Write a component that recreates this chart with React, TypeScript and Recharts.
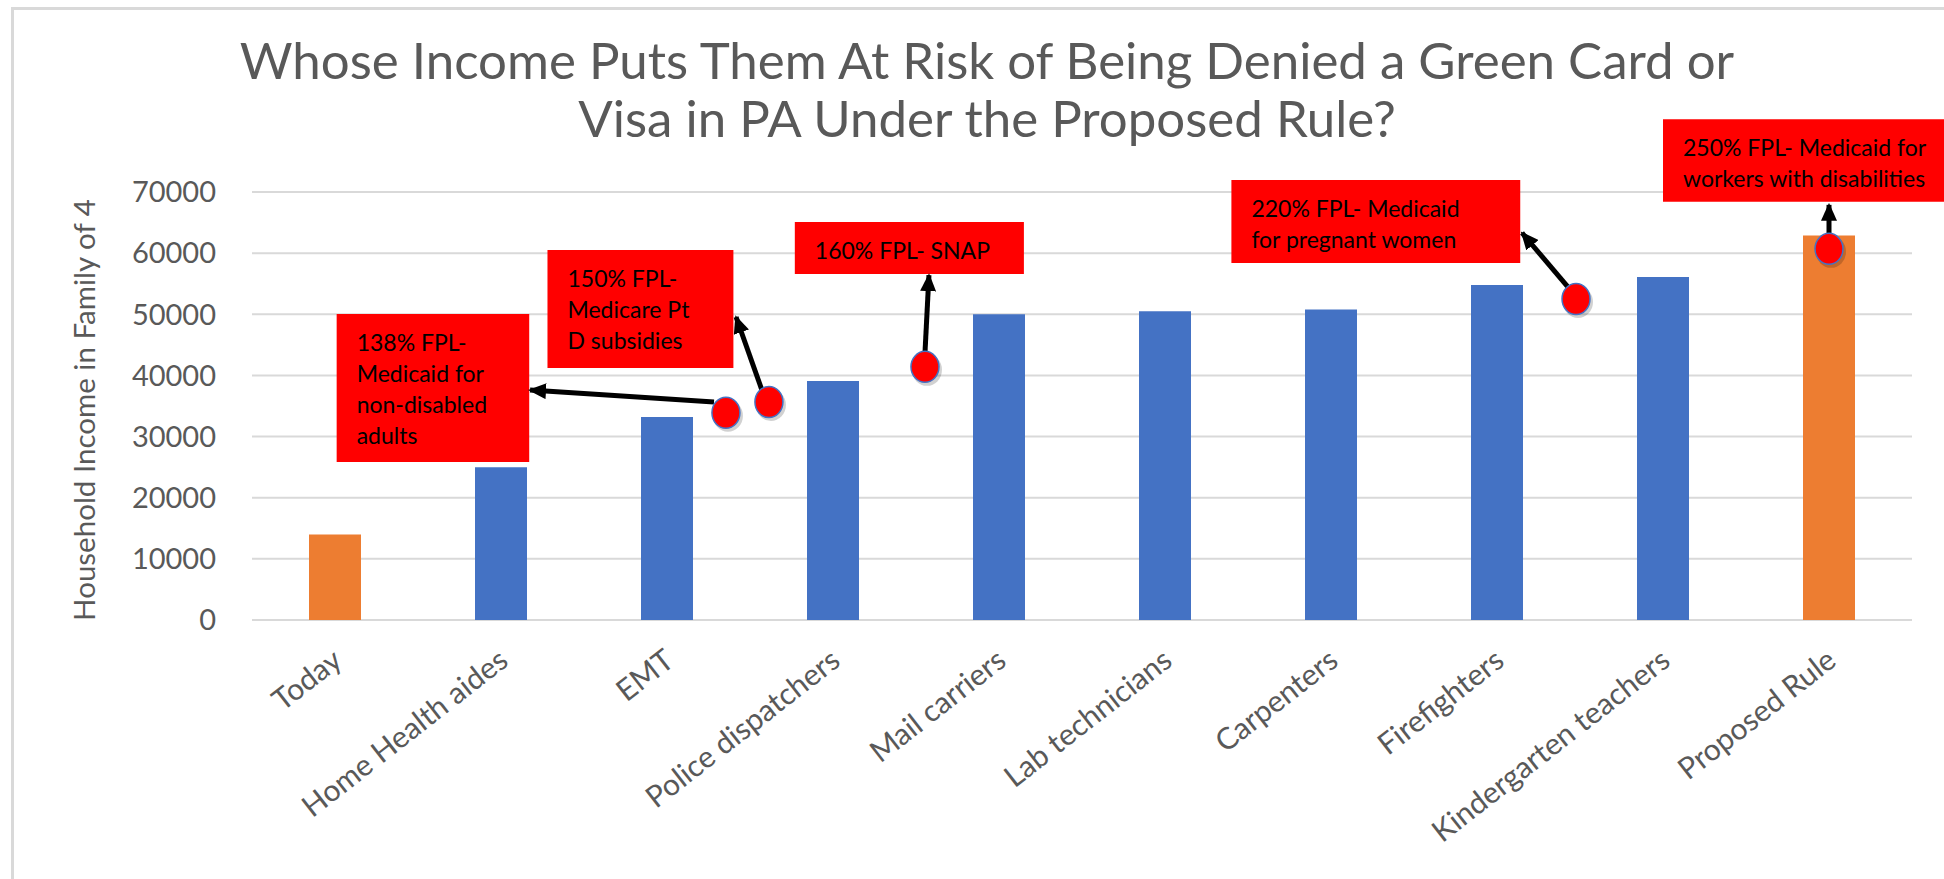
import React from 'react';
import {
  ComposedChart,
  Bar,
  Cell,
  Scatter,
  XAxis,
  YAxis,
  CartesianGrid,
  ReferenceArea,
  ReferenceLine,
} from 'recharts';

const categories = [
  'Today',
  'Home Health aides',
  'EMT',
  'Police dispatchers',
  'Mail carriers',
  'Lab technicians',
  'Carpenters',
  'Firefighters',
  'Kindergarten teachers',
  'Proposed Rule',
];
const incomes = [14000, 25000, 33200, 39100, 50000, 50500, 50800, 54800, 56100, 62900];
const thresholdBars = ['Today', 'Proposed Rule'];
const yTicks = [0, 10000, 20000, 30000, 40000, 50000, 60000, 70000];

// FPL call-outs, placed in (category index, income) space
const noteLines = [
  ['138% FPL-', 'Medicaid for', 'non-disabled', 'adults'],
  ['150% FPL-', 'Medicare Pt', 'D subsidies'],
  ['160% FPL- SNAP'],
  ['220% FPL- Medicaid', 'for pregnant women'],
  ['250% FPL- Medicaid for', 'workers with disabilities'],
];
const noteX1 = [0.01, 1.28, 2.77, 5.4, 8.0];
const noteX2 = [1.17, 2.4, 4.15, 7.14, 9.75];
const noteTop = [50050, 60500, 65100, 71950, 81900];
const noteBottom = [25850, 41200, 56600, 58400, 68400];
const dotX = [2.355, 2.614, 3.554, 7.476, 9.0];
const dotY = [33900, 35650, 41400, 52500, 60700];
const arrowFromX = [2.283, 2.572, 3.554, 7.428, 9.0];
const arrowFromY = [35650, 37600, 43700, 54450, 61800];
const arrowToX = [1.175, 2.416, 3.578, 7.151, 9.0];
const arrowToY = [37600, 49550, 56400, 63300, 67900];

const BLUE = '#4472C4';
const ORANGE = '#ED7D31';
const GREY = '#595959';

const barData = categories.map((name, i) => ({ name, value: incomes[i] }));
const dotData = dotX.map((x, i) => ({ x, y: dotY[i] }));

const CategoryTick = (props: any) => {
  const { x, y, payload } = props;
  const px = x + 9;
  const py = y + 44;
  return (
    <text
      x={px}
      y={py}
      transform={`rotate(-38, ${px}, ${py})`}
      textAnchor="end"
      fill={GREY}
      fontSize={30}
      fontFamily="Lato"
    >
      {payload.value}
    </text>
  );
};

const NoteText = (props: any) => {
  const { viewBox, lines } = props;
  if (!viewBox) return null;
  return (
    <g>
      {lines.map((l: string, i: number) => (
        <text
          key={i}
          x={viewBox.x + 20}
          y={viewBox.y + 28 + i * 31}
          dominantBaseline="central"
          fontSize={23}
          fontFamily="Lato"
          fill="#000"
        >
          {l}
        </text>
      ))}
    </g>
  );
};

const RedDot = (props: any) => {
  const { cx, cy } = props;
  return (
    <g>
      <ellipse cx={cx + 2} cy={cy + 3} rx={15} ry={16} fill="#000" opacity={0.18} />
      <ellipse cx={cx} cy={cy} rx={14} ry={15.5} fill="#FF0000" stroke={BLUE} strokeWidth={1.5} />
    </g>
  );
};

const Arrow = (props: any) => {
  const { x1, y1, x2, y2 } = props;
  return (
    <line x1={x1} y1={y1} x2={x2} y2={y2} stroke="#000" strokeWidth={5} markerEnd="url(#arrowHead)" />
  );
};

export default function App() {
  return (
    <div
      style={{
        position: 'absolute',
        left: 0,
        top: 0,
        width: 1944,
        height: 879,
        overflow: 'hidden',
        background: '#fff',
      }}
    >
      <div
        style={{
          position: 'absolute',
          left: 11,
          top: 7,
          width: 2000,
          height: 1000,
          borderTop: '3px solid #d9d9d9',
          borderLeft: '3px solid #d9d9d9',
        }}
      />
      <div
        style={{
          position: 'absolute',
          left: 0,
          top: 31,
          width: 1974,
          textAlign: 'center',
          fontFamily: 'Lato',
          fontWeight: 400,
          fontSize: 51,
          lineHeight: '58px',
          color: GREY,
        }}
      >
        Whose Income Puts Them At Risk of Being Denied a Green Card or
        <br />
        Visa in PA Under the Proposed Rule?
      </div>
      <div
        style={{
          position: 'absolute',
          left: 84,
          top: 410,
          transform: 'translate(-50%, -50%) rotate(-90deg)',
          whiteSpace: 'nowrap',
          fontFamily: 'Lato',
          fontSize: 29.5,
          lineHeight: 1,
          color: GREY,
        }}
      >
        Household Income in Family of 4
      </div>
      <div style={{ position: 'absolute', left: 0, top: 0 }}>
        <ComposedChart
          width={1944}
          height={879}
          data={barData}
          margin={{ top: 192, right: 32, bottom: 0, left: 0 }}
        >
          <defs>
            <marker
              id="arrowHead"
              markerUnits="userSpaceOnUse"
              markerWidth={18}
              markerHeight={16}
              refX={16}
              refY={8}
              orient="auto"
            >
              <path d="M0,0 L18,8 L0,16 z" fill="#000" />
            </marker>
          </defs>
          <CartesianGrid xAxisId="cat" vertical={false} stroke="#d9d9d9" strokeWidth={2} />
          <XAxis
            xAxisId="cat"
            dataKey="name"
            interval={0}
            height={259}
            tickLine={false}
            axisLine={false}
            tickSize={0}
            tickMargin={0}
            tick={<CategoryTick />}
          />
          <XAxis
            xAxisId="pos"
            dataKey="x"
            type="number"
            domain={[-0.5, 9.5]}
            allowDataOverflow
            hide
          />
          <YAxis
            width={252}
            domain={[0, 70000]}
            ticks={yTicks}
            allowDataOverflow
            tickLine={false}
            axisLine={false}
            tickSize={0}
            tickMargin={36}
            tick={{ fill: GREY, fontSize: 29, fontFamily: 'Lato' }}
          />
          <Bar xAxisId="cat" dataKey="value" barSize={52} isAnimationActive={false}>
            {barData.map((d) => (
              <Cell key={d.name} fill={thresholdBars.includes(d.name) ? ORANGE : BLUE} />
            ))}
          </Bar>
          {noteLines.map((lines, i) => (
            <ReferenceArea
              key={'note' + i}
              xAxisId="pos"
              x1={noteX1[i]}
              x2={noteX2[i]}
              y1={noteBottom[i]}
              y2={noteTop[i]}
              fill="#FF0000"
              fillOpacity={1}
              stroke="none"
              ifOverflow="visible"
              label={<NoteText lines={lines} />}
            />
          ))}
          <Scatter
            xAxisId="pos"
            data={dotData}
            dataKey="y"
            shape={<RedDot />}
            isAnimationActive={false}
          />
          {arrowFromX.map((x, i) => (
            <ReferenceLine
              key={'arrow' + i}
              xAxisId="pos"
              segment={[
                { x, y: arrowFromY[i] },
                { x: arrowToX[i], y: arrowToY[i] },
              ]}
              stroke="#000"
              strokeWidth={5}
              ifOverflow="visible"
              shape={<Arrow />}
            />
          ))}
        </ComposedChart>
      </div>
    </div>
  );
}
